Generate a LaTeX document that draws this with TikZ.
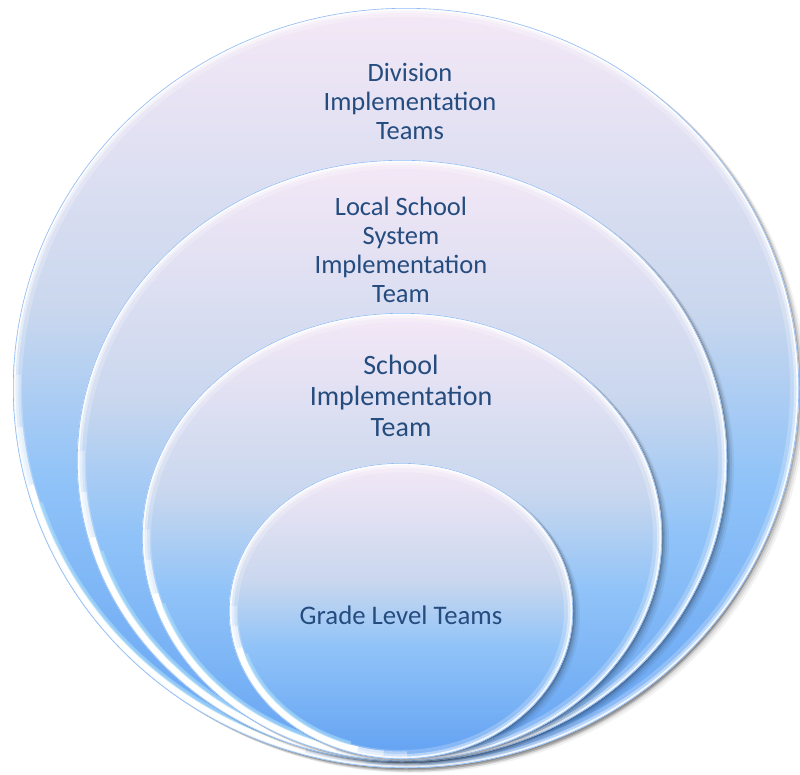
\documentclass[tikz,border=0pt]{standalone}
\usepackage{fontspec}
\setmainfont{Carlito}
\definecolor{ringA}{HTML}{F4E8F6}
\definecolor{ringB}{HTML}{C9D7EE}
\definecolor{ringC}{HTML}{90C3F8}
\definecolor{ringD}{HTML}{62A1F2}
\definecolor{labelblue}{HTML}{254C7F}
\pgfdeclareverticalshading{ringfill}{100bp}{color(0bp)=(ringD); color(25bp)=(ringD); color(44bp)=(ringC); color(55bp)=(ringB); color(75bp)=(ringA); color(100bp)=(ringA)}
% one glossy ring: centre x, centre y, x radius, y radius
\newcommand\glossyring[4]{%
  % soft shadow falling down and to the right
  \foreach \k/\op in {7/0.05,5/0.07,3.2/0.1,1.6/0.15}{%
    \fill[black,opacity=\op] (#1+\k,#2+0.7*\k) ellipse [x radius=#3pt, y radius=#4pt];}
  \shade[shading=ringfill] (#1,#2) ellipse [x radius=#3pt, y radius=#4pt];
  \begin{scope}
    \clip (#1,#2) ellipse [x radius=#3pt, y radius=#4pt];
    \draw[white,opacity=0.22,line width=18pt] (#1,#2) ellipse [x radius=#3pt, y radius=#4pt];
    \draw[white,opacity=0.4,line width=10pt] (#1,#2) ellipse [x radius=#3pt, y radius=#4pt];
    \draw[white,opacity=0.8,line width=5pt] (#1,#2) ellipse [x radius=#3pt, y radius=#4pt];
    % bright reflection along the lower left edge, fading at both ends
    \foreach \a/\b/\op in {178/272/0.35,186/264/0.5,195/255/1}{%
      \draw[white,opacity=\op,line width=6pt,shift={(#1,#2)}]
        plot[domain=\a:\b,samples=50] ({(#3-4.5)*cos(\x)},{-(#4-4.5)*sin(\x)});}
    \draw[cyan!30!white,opacity=0.5,line width=4pt,shift={(#1,#2)}]
      plot[domain=198:252,samples=50] ({(#3-9)*cos(\x)},{-(#4-9)*sin(\x)});
    \draw[ringD,opacity=0.7,line width=1.2pt] (#1,#2) ellipse [x radius=#3pt, y radius=#4pt];
  \end{scope}}
\begin{document}
\begin{tikzpicture}[x=1pt,y=-1pt,
  ringlabel/.style={text=labelblue,align=center,inner sep=0pt,
    font=\fontsize{26.5}{29}\selectfont}]
\useasboundingbox (0,0) rectangle (800,774);
% extra shadow under the bottom of the outer ring
\foreach \k/\op in {4/0.08,2.5/0.1}{%
  \fill[black,opacity=\op] (410,388+\k) ellipse [x radius=388pt, y radius=380pt];}
% four nested rings, all meeting near the bottom
\glossyring{406}{388}{393}{380}
\glossyring{402}{461}{325}{301}
\glossyring{402}{537}{260}{224}
\glossyring{401}{611}{172}{148}
% labels
\node[ringlabel] (division) at (410,101) {Division\\Implementation\\Teams};
\node[ringlabel] (local) at (401,250) {Local School\\System\\Implementation\\Team};
\node[ringlabel,font=\fontsize{28}{31}\selectfont] (school) at (401,396) {School\\Implementation\\Team};
\node[ringlabel,font=\fontsize{26.8}{29}\selectfont] (grade) at (401,615) {Grade Level Teams};
\end{tikzpicture}
\end{document}
